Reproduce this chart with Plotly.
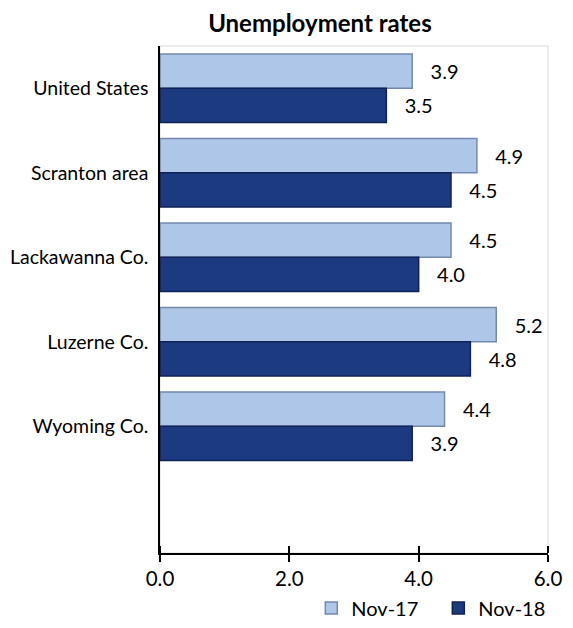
import plotly.graph_objects as go

categories = ["United States", "Scranton area", "Lackawanna Co.", "Luzerne Co.", "Wyoming Co."]
nov17 = [3.9, 4.9, 4.5, 5.2, 4.4]
nov18 = [3.5, 4.5, 4.0, 4.8, 3.9]
series_names = ["Nov-17", "Nov-18"]
x_ticks = [0, 2, 4, 6]

FONT = "Lato, 'Open Sans', sans-serif"

# The page body has an 8px margin on every side, so the figure is sized to fit
# inside the window without scrollbars.
fig = go.Figure()
fig.add_trace(go.Bar(
    y=categories, x=nov17, name=series_names[0], orientation="h",
    marker=dict(color="#AEC6E7", line=dict(color="#7389AE", width=1.5)),
    text=nov17, texttemplate="   %{x:.1f}", textposition="outside",
    textfont=dict(size=20, color="black", family=FONT), cliponaxis=False,
))
fig.add_trace(go.Bar(
    y=categories, x=nov18, name=series_names[1], orientation="h",
    marker=dict(color="#1C3A80", line=dict(color="#0F2257", width=1.5)),
    text=nov18, texttemplate="   %{x:.1f}", textposition="outside",
    textfont=dict(size=20, color="black", family=FONT), cliponaxis=False,
))

fig.update_layout(
    width=557, height=612,
    margin=dict(l=152, r=17, t=38, b=67, autoexpand=False),
    paper_bgcolor="white", plot_bgcolor="white",
    barmode="group", bargap=0.19, bargroupgap=0,
    font=dict(family=FONT, color="black", size=19),
    title=dict(text="<b>Unemployment rates</b>", x=0.56, xanchor="center",
               y=0.975, yanchor="middle", font=dict(size=24, family=FONT)),
    legend=dict(orientation="h", x=0.39, xanchor="left", y=-0.07, yanchor="top",
                bgcolor="rgba(0,0,0,0)",
                font=dict(size=20), entrywidth=82, traceorder="normal"),
    showlegend=True,
    shapes=[dict(type="rect", xref="x domain", yref="y domain", x0=0, x1=1, y0=0, y1=1,
                 line=dict(color="#D9D9D9", width=1), layer="below")],
)
fig.update_xaxes(
    range=[0, 6], tickvals=x_ticks, tickformat=".1f", automargin=False,
    showgrid=False, zeroline=False,
    showline=True, linecolor="black", linewidth=1.5,
    ticks="outside", ticklen=7, tickwidth=1.5, tickcolor="black",
    minor=dict(tickvals=x_ticks, ticks="inside", ticklen=7, tickwidth=1.5, tickcolor="black"),
    ticklabelstandoff=0, ticklabeloverflow="allow",
    tickfont=dict(size=20.5),
)
fig.update_yaxes(
    categoryorder="array", categoryarray=categories, automargin=False,
    range=[5.5, -0.5], showgrid=False, zeroline=False,
    showline=True, linecolor="black", linewidth=1.5,
    ticks="", ticklabelstandoff=6,
    tickfont=dict(size=19.5),
)

fig.write_html("out.html")
